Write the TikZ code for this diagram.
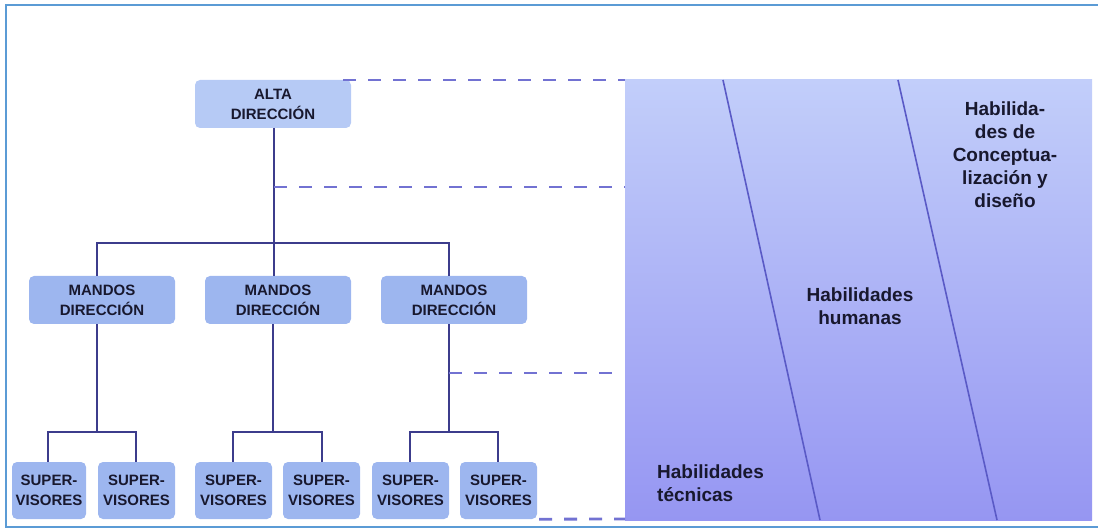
\documentclass[tikz,border=0pt]{standalone}
\usepackage{fontspec}
\setmainfont{Liberation Sans}
\usetikzlibrary{positioning}
\definecolor{frame}{HTML}{5B9BD5}
\definecolor{boxA}{HTML}{B6CAF5}
\definecolor{boxB}{HTML}{9DB6EF}
\definecolor{txt}{HTML}{18182E}
\definecolor{tree}{HTML}{3C3C8C}
\definecolor{dash}{HTML}{7272D2}
\definecolor{gradtop}{HTML}{C2CEFA}
\definecolor{gradbot}{HTML}{9696F2}
\definecolor{diag}{HTML}{5A5AC6}
\tikzset{
  orgbox/.style={rounded corners=5pt, fill=boxB, draw=none, text=txt,
    font=\fontsize{15}{20}\selectfont\bfseries, align=center, inner sep=0pt,
    minimum height=48pt},
  topbox/.style={orgbox, fill=boxA, minimum width=156pt},
  midbox/.style={orgbox, minimum width=146pt},
  supbox/.style={orgbox, minimum width=76pt, minimum height=57pt},
  treeline/.style={draw=tree, line width=1.8pt},
  dashline/.style={draw=dash, line width=2.8pt, dash pattern=on 13pt off 12pt},
  skill/.style={text=txt, font=\fontsize{19}{23}\selectfont\bfseries, inner sep=0pt},
}
\begin{document}
\begin{tikzpicture}[x=1pt,y=-1pt]
\useasboundingbox (0,0) rectangle (1098,529);
% outer frame
\draw[frame, line width=1.6pt] (1100,5) -- (6,5) -- (6,527) -- (1100,527);
% right panel
\shade[top color=gradtop, bottom color=gradbot] (625,80) rectangle (1092,520);
\coordinate (d1a) at (723,80); \coordinate (d1b) at (820,520);
\coordinate (d2a) at (898,80); \coordinate (d2b) at (997,520);
\draw[diag, line width=1.6pt] (d1a) -- (d1b);
\draw[diag, line width=1.6pt] (d2a) -- (d2b);
\node[skill, align=left, anchor=west] (tec) at (657,483) {Habilidades\\técnicas};
\node[skill, align=center] (hum) at (860,306) {Habilidades\\humanas};
\node[skill, align=center] (con) at (1005,155) {Habilida-\\des de\\Conceptua-\\lización y\\diseño};
% org boxes
\node[topbox] (alta) at (273,104) {ALTA\\DIRECCIÓN};
\node[midbox] (m1) at (102,300) {MANDOS\\DIRECCIÓN};
\node[midbox] (m2) at (278,300) {MANDOS\\DIRECCIÓN};
\node[midbox] (m3) at (454,300) {MANDOS\\DIRECCIÓN};
\node[supbox, minimum width=74pt] (s1) at (49,490.5) {SUPER-\\VISORES};
\node[supbox, minimum width=77pt] (s2) at (136.5,490.5) {SUPER-\\VISORES};
\node[supbox, minimum width=77pt] (s3) at (233.5,490.5) {SUPER-\\VISORES};
\node[supbox, minimum width=77pt] (s4) at (321.5,490.5) {SUPER-\\VISORES};
\node[supbox, minimum width=77pt] (s5) at (410.5,490.5) {SUPER-\\VISORES};
\node[supbox, minimum width=77pt] (s6) at (498.5,490.5) {SUPER-\\VISORES};
% tree connectors
\coordinate (j0) at (274,243);
\draw[treeline] (274,128) -- (j0);
\draw[treeline] (m1.north -| 97,0) -- (97,243) -- (449,243) -- (m3.north -| 449,0);
\draw[treeline] (j0) -- (m2.north -| 274,0);
\draw[treeline] (m1.south -| 97,0) -- (97,432);
\draw[treeline] (s1.north -| 48,0) -- (48,432) -- (136,432) -- (s2.north -| 136,0);
\draw[treeline] (m2.south -| 273,0) -- (273,432);
\draw[treeline] (s3.north -| 233,0) -- (233,432) -- (322,432) -- (s4.north -| 322,0);
\draw[treeline] (m3.south -| 449,0) -- (449,432);
\draw[treeline] (s5.north -| 410,0) -- (410,432) -- (498,432) -- (s6.north -| 498,0);
% dashed guides
\draw[dashline] (343,80) -- (625,80);
\draw[dashline] (j0 |- 0,187) -- (625,187);
\draw[dashline] (449,373) -- (620,373);
\draw[dashline] (s6.south east) ++(2,0) -- (625,519);
\end{tikzpicture}
\end{document}
